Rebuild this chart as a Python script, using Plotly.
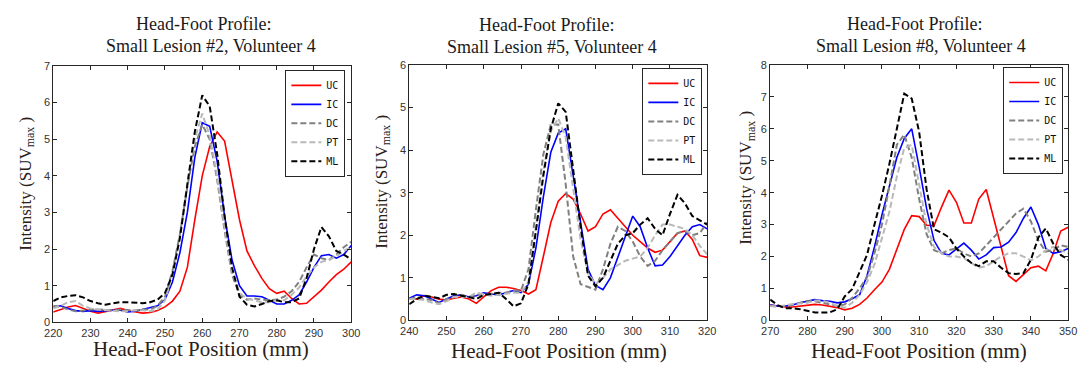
import plotly.graph_objects as go

W, H = 1087, 367

# ---------------- data ----------------
labels = ["UC", "IC", "DC", "PT", "ML"]

x1 = [220, 222, 224, 226, 228, 230, 232, 234, 236, 238, 240, 242, 244, 246, 248,
      250, 252, 254, 256, 258, 260, 262, 264, 266, 268, 270, 272, 274, 276, 278,
      280, 282, 284, 286, 288, 290, 292, 294, 296, 298, 300]
uc1 = [0.28, 0.35, 0.42, 0.46, 0.38, 0.30, 0.25, 0.30, 0.35, 0.38, 0.32, 0.28, 0.25, 0.27, 0.32,
       0.42, 0.58, 0.85, 1.5, 2.8, 4.0, 4.8, 5.2, 4.95, 3.9, 2.8, 1.95, 1.55, 1.2, 0.92,
       0.79, 0.85, 0.65, 0.5, 0.52, 0.7, 0.88, 1.1, 1.3, 1.45, 1.65]
ic1 = [0.42, 0.45, 0.38, 0.32, 0.30, 0.32, 0.30, 0.32, 0.33, 0.33, 0.28, 0.30, 0.35, 0.38, 0.45,
       0.62, 1.1, 1.9, 3.0, 4.5, 5.45, 5.35, 4.4, 2.9, 1.7, 1.0, 0.72, 0.72, 0.70, 0.60,
       0.50, 0.50, 0.60, 0.75, 1.1, 1.5, 1.82, 1.85, 1.75, 1.85, 2.1]
dc1 = [0.45, 0.42, 0.35, 0.30, 0.32, 0.35, 0.35, 0.33, 0.33, 0.35, 0.33, 0.32, 0.35, 0.35, 0.45,
       0.7, 1.4, 2.4, 3.7, 4.8, 5.4, 5.0, 3.9, 2.5, 1.3, 0.75, 0.62, 0.65, 0.62, 0.6,
       0.62, 0.7, 0.85, 1.1, 1.5, 1.85, 1.75, 1.7, 1.85, 2.05, 2.2]
pt1 = [0.38, 0.45, 0.55, 0.58, 0.45, 0.38, 0.35, 0.33, 0.32, 0.30, 0.30, 0.33, 0.33, 0.30, 0.35,
       0.6, 1.3, 2.4, 3.8, 5.0, 5.7, 5.1, 4.0, 2.6, 1.4, 0.8, 0.65, 0.6, 0.55, 0.55,
       0.6, 0.6, 0.75, 0.95, 1.25, 1.5, 1.65, 1.7, 1.8, 1.95, 2.05]
ml1 = [0.58, 0.68, 0.72, 0.74, 0.68, 0.58, 0.52, 0.48, 0.52, 0.55, 0.55, 0.53, 0.52, 0.55, 0.62,
       0.8, 1.3, 2.3, 3.8, 5.2, 6.2, 5.9, 4.6, 2.9, 1.5, 0.7, 0.48, 0.43, 0.5, 0.58,
       0.6, 0.55, 0.55, 0.65, 1.2, 2.0, 2.6, 2.35, 1.95, 1.85, 1.72]

x2 = [240, 242, 244, 246, 248, 250, 252, 254, 256, 258, 260, 262, 264, 266, 268, 270,
      272, 274, 276, 278, 280, 282, 284, 286, 288, 290, 292, 294, 296, 298, 300,
      302, 304, 306, 308, 310, 312, 314, 316, 318, 320]
uc2 = [0.52, 0.5, 0.58, 0.55, 0.5, 0.48, 0.52, 0.55, 0.5, 0.4, 0.55, 0.7, 0.78, 0.78, 0.75, 0.7,
       0.62, 0.72, 1.5, 2.3, 2.8, 2.98, 2.85, 2.5, 2.1, 2.2, 2.5, 2.6, 2.4, 2.2, 2.0,
       1.85, 1.7, 1.6, 1.65, 1.85, 2.05, 2.1, 1.9, 1.52, 1.48]
ic2 = [0.52, 0.6, 0.58, 0.5, 0.42, 0.5, 0.58, 0.6, 0.55, 0.58, 0.65, 0.62, 0.6, 0.65, 0.7, 0.65,
       0.85, 1.7, 2.9, 3.95, 4.4, 4.5, 3.4, 2.2, 1.2, 0.82, 0.72, 1.0, 1.5, 2.0, 2.45,
       2.2, 1.7, 1.28, 1.3, 1.5, 1.75, 2.0, 2.2, 2.25, 2.15]
dc2 = [0.5, 0.55, 0.5, 0.48, 0.4, 0.5, 0.55, 0.6, 0.55, 0.6, 0.6, 0.62, 0.65, 0.65, 0.7, 0.7,
       1.2, 2.6, 3.9, 4.6, 4.6, 3.2, 1.5, 0.85, 0.78, 0.72, 1.2, 1.8, 2.2, 2.1, 1.85,
       1.5, 1.28, 1.4, 1.65, 1.85, 2.05, 2.1, 2.0, 2.05, 2.3]
pt2 = [0.5, 0.5, 0.48, 0.42, 0.38, 0.45, 0.55, 0.55, 0.55, 0.65, 0.62, 0.58, 0.6, 0.62, 0.65, 0.65,
       0.9, 2.2, 3.5, 4.45, 4.75, 4.3, 3.1, 1.9, 1.1, 0.85, 1.0, 1.2, 1.3, 1.4, 1.45,
       1.5, 1.7, 2.0, 2.25, 2.25, 2.2, 2.15, 2.0, 1.75, 1.55]
ml2 = [0.38, 0.5, 0.58, 0.55, 0.52, 0.6, 0.62, 0.58, 0.55, 0.5, 0.6, 0.62, 0.65, 0.5, 0.33, 0.4,
       0.85, 2.1, 3.4, 4.5, 5.1, 4.9, 3.5, 2.2, 1.05, 0.8, 1.0, 1.4, 1.8, 2.0, 2.05,
       2.25, 2.4, 2.15, 2.0, 2.5, 2.95, 2.75, 2.45, 2.35, 2.25]

x3 = [270, 272, 274, 276, 278, 280, 282, 284, 286, 288,
      290, 292, 294, 296, 298, 300, 302, 304, 306, 308,
      310, 312, 314, 316, 318, 320, 322, 324, 326, 328,
      330, 332, 334, 336, 338, 340, 342, 344, 346, 348, 350]
uc3 = [0.48, 0.45, 0.42, 0.42, 0.45, 0.48, 0.5, 0.48, 0.45, 0.4,
       0.33, 0.38, 0.5, 0.7, 0.96, 1.2, 1.6, 2.2, 2.85, 3.28,
       3.25, 2.98, 2.97, 3.55, 4.08, 3.7, 3.05, 3.05, 3.8, 4.1,
       3.2, 2.3, 1.4, 1.22, 1.45, 1.65, 1.7, 1.55, 2.1, 2.8, 2.92]
ic3 = [0.48, 0.45, 0.45, 0.48, 0.55, 0.6, 0.65, 0.62, 0.6, 0.55,
       0.58, 0.68, 0.8, 1.4, 2.3, 3.3, 4.2, 5.1, 5.7, 6.0,
       4.8, 3.5, 2.5, 2.1, 2.05, 2.25, 2.42, 2.2, 1.92, 2.05,
       2.28, 2.3, 2.45, 2.75, 3.2, 3.55, 3.0, 2.25, 2.1, 2.15, 2.25]
dc3 = [0.45, 0.45, 0.45, 0.5, 0.55, 0.6, 0.6, 0.55, 0.5, 0.45,
       0.5, 0.7, 1.0, 1.35, 2.1, 3.0, 4.2, 5.5, 5.82, 5.1,
       3.8, 2.7, 2.2, 2.1, 2.2, 2.25, 2.1, 2.0, 2.1, 2.35,
       2.6, 2.85, 3.1, 3.35, 3.5, 3.1, 2.5, 2.15, 2.2, 2.35, 2.3]
pt3 = [0.45, 0.42, 0.48, 0.5, 0.52, 0.55, 0.62, 0.62, 0.55, 0.45,
       0.4, 0.55, 0.8, 1.2, 1.75, 2.6, 3.4, 4.5, 5.4, 5.5,
       4.3, 3.0, 2.3, 2.1, 2.0, 2.0, 1.95, 1.8, 1.65, 1.7,
       1.85, 2.0, 2.1, 2.1, 2.0, 1.88, 2.0, 2.2, 2.3, 2.2, 2.1]
ml3 = [0.65, 0.48, 0.38, 0.38, 0.35, 0.3, 0.25, 0.25, 0.25, 0.35,
       0.75, 0.98, 1.5, 2.05, 3.0, 3.9, 4.9, 6.0, 7.1, 6.95,
       5.9, 4.1, 2.85, 2.75, 2.6, 2.25, 2.0, 1.8, 1.7, 1.85,
       1.85, 1.65, 1.48, 1.45, 1.48, 1.9, 2.6, 2.88, 2.4, 2.05, 1.9]

titles = ["Small Lesion #2, Volunteer 4", "Small Lesion #5, Volunteer 4", "Small Lesion #8, Volunteer 4"]
x_ranges = [[220, 300], [240, 320], [270, 350]]
y_ranges = [[0, 7], [0, 6], [0, 8]]

# ---------------- styles ----------------
styles = {
    "UC": dict(color="#ff0000", width=1.6, dash="solid"),
    "IC": dict(color="#0000ff", width=1.6, dash="solid"),
    "DC": dict(color="#808080", width=2, dash="6px,3px"),
    "PT": dict(color="#b9b9b9", width=2, dash="6px,3px"),
    "ML": dict(color="#000000", width=2, dash="6px,3px"),
}

def px(x):
    return x / W

def py(y):
    return 1 - y / H

# plot boxes in pixels: (left, right, top, bottom)
boxes = [(45, 348, 62, 327), (407, 710, 61, 325), (774, 1077, 61, 325)]
legend_pos = [(342, 66), (705, 64), (1072, 63)]
title_pos = [((198, 19), (205, 41)), ((547, 20), (552, 42)), ((921, 19), (927, 41))]
xtitle_pos = [(195, 355), (559, 357), (925, 357)]
ytitle_pos = [(18, 184), (380, 182), (751, 178)]

panels = [
    (x1, [uc1, ic1, dc1, pt1, ml1]),
    (x2, [uc2, ic2, dc2, pt2, ml2]),
    (x3, [uc3, ic3, dc3, pt3, ml3]),
]

fig = go.Figure()
axis_color = "#262626"
text_color = "#2a2016"
annotations = []
layout = dict()

for i, (xs, series) in enumerate(panels):
    n = "" if i == 0 else str(i + 1)
    leg = "legend" + n
    for lab, ys in zip(labels, series):
        st = styles[lab]
        fig.add_trace(go.Scatter(
            x=xs, y=ys, mode="lines", name=lab,
            line=dict(color=st["color"], width=st["width"], dash=st["dash"]),
            xaxis="x" + n, yaxis="y" + n, legend=leg,
        ))
    l, r, t, b = boxes[i]
    common = dict(showline=True, linecolor=axis_color, linewidth=1, mirror="ticks",
                  ticks="inside", ticklen=4, tickcolor=axis_color, tickwidth=1,
                  showgrid=False, zeroline=False,
                  tickfont=dict(family="Liberation Sans, Arial", size=11, color="#333333"))
    layout["xaxis" + n] = dict(domain=[px(l), px(r)], range=x_ranges[i], dtick=10,
                               anchor="y" + n, **common)
    layout["yaxis" + n] = dict(domain=[py(b), py(t)], range=y_ranges[i], dtick=1,
                               anchor="x" + n, **common)
    lx, ly = legend_pos[i]
    layout[leg] = dict(x=px(lx), y=py(ly), xanchor="right", yanchor="top",
                       bgcolor="white", bordercolor=axis_color, borderwidth=1,
                       font=dict(family="DejaVu Sans Mono", size=10, color="#111111"),
                       tracegroupgap=0, itemwidth=30)
    (t1x, t1y), (t2x, t2y) = title_pos[i]
    for tx, ty, txt in [(t1x, t1y, "Head-Foot Profile:"), (t2x, t2y, titles[i])]:
        annotations.append(dict(x=px(tx), y=py(ty), xref="paper", yref="paper",
                                text=txt, showarrow=False, xanchor="center", yanchor="middle",
                                font=dict(family="Liberation Serif", size=18, color="#1a1a1a")))
    xx, xy = xtitle_pos[i]
    annotations.append(dict(x=px(xx), y=py(xy), xref="paper", yref="paper",
                            text="Head-Foot Position (mm)", showarrow=False,
                            xanchor="center", yanchor="middle",
                            font=dict(family="Liberation Serif", size=21, color=text_color)))
    yx, yy = ytitle_pos[i]
    annotations.append(dict(x=px(yx), y=py(yy), xref="paper", yref="paper",
                            text="Intensity (SUV<sub>max</sub> )", showarrow=False,
                            textangle=-90, xanchor="center", yanchor="middle",
                            font=dict(family="Liberation Serif", size=17, color=text_color)))

fig.update_layout(
    width=W, height=H,
    margin=dict(l=0, r=0, t=0, b=0),
    paper_bgcolor="white", plot_bgcolor="white",
    showlegend=True,
    annotations=annotations,
    **layout,
)

fig.write_html("out.html", config={"displayModeBar": False},
               post_script="document.body.style.margin='0px';")
